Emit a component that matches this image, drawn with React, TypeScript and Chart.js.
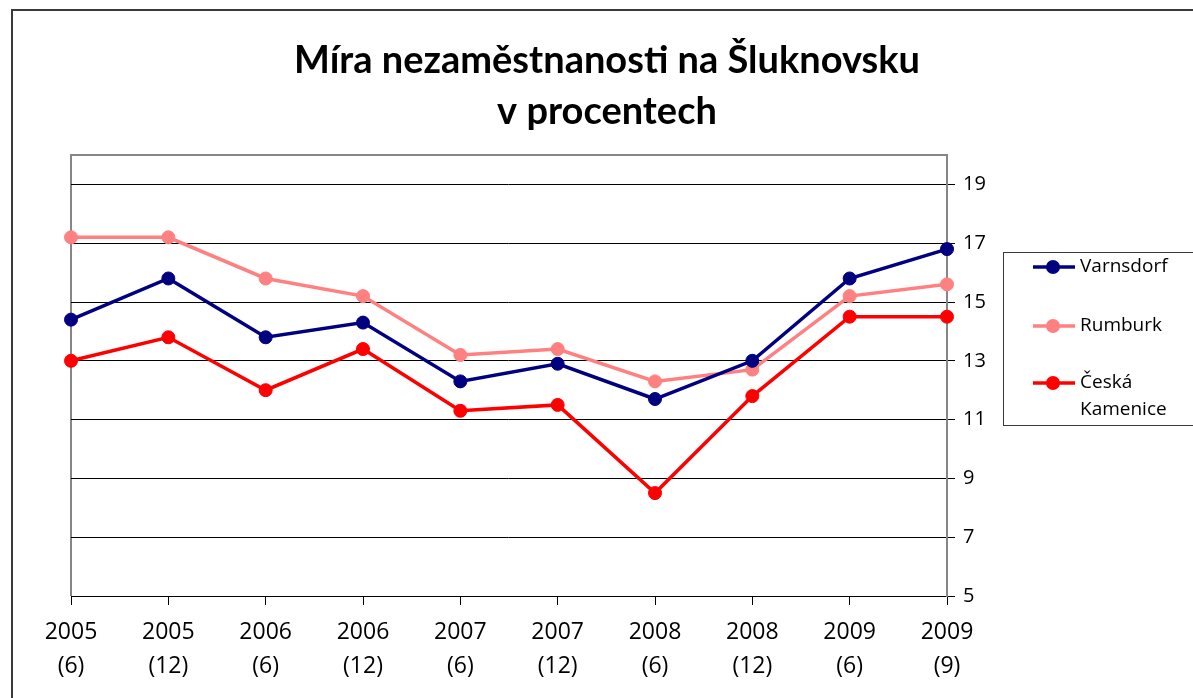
import React, { useEffect, useRef } from "react";
import { Chart, registerables } from "chart.js";

Chart.register(...registerables);

const titleLines = ["Míra nezaměstnanosti na Šluknovsku", "v procentech"];
const years = ["2005", "2005", "2006", "2006", "2007", "2007", "2008", "2008", "2009", "2009"];
const months = ["6", "12", "6", "12", "6", "12", "6", "12", "6", "9"];
const varnsdorf = [14.4, 15.8, 13.8, 14.3, 12.3, 12.9, 11.7, 13.0, 15.8, 16.8];
const rumburk = [17.2, 17.2, 15.8, 15.2, 13.2, 13.4, 12.3, 12.7, 15.2, 15.6];
const ceskaKamenice = [13.0, 13.8, 12.0, 13.4, 11.3, 11.5, 8.5, 11.8, 14.5, 14.5];
const seriesNames = ["Varnsdorf", "Rumburk", "Česká Kamenice"];
const seriesColors = ["#000080", "#FF8080", "#FF0000"];
const yTicks = [5, 7, 9, 11, 13, 15, 17, 19];
const yMin = 5;
const yMax = 20;

const FONT = "'Open Sans', sans-serif";

const decorPlugin = {
  id: "decor",
  beforeDraw(chart: any) {
    const { ctx, chartArea } = chart;
    ctx.save();
    ctx.fillStyle = "#ffffff";
    ctx.fillRect(0, 0, chart.width, chart.height);
    // outer border
    ctx.strokeStyle = "#3a3a3a";
    ctx.lineWidth = 2;
    ctx.strokeRect(12, 10, chart.width + 20, chart.height + 20);
    // plot area border (grey)
    ctx.strokeStyle = "#868686";
    ctx.lineWidth = 2;
    ctx.beginPath();
    ctx.moveTo(chartArea.left, chartArea.bottom);
    ctx.lineTo(chartArea.left, chartArea.top);
    ctx.lineTo(chartArea.right, chartArea.top);
    ctx.stroke();
    // title
    ctx.fillStyle = "#000000";
    ctx.font = `bold 38px Lato, sans-serif`;
    ctx.textAlign = "center";
    ctx.textBaseline = "alphabetic";
    ctx.fillText(titleLines[0], 607, 73);
    ctx.fillText(titleLines[1], 607, 124);
    ctx.restore();
  },
  afterDraw(chart: any) {
    const { ctx } = chart;
    ctx.save();
    // legend box
    ctx.strokeStyle = "#3a3a3a";
    ctx.lineWidth = 1;
    ctx.strokeRect(1003.5, 252.5, 220, 173);
    const rows = [267, 326, 383];
    ctx.font = `19px ${FONT}`;
    ctx.textAlign = "left";
    ctx.textBaseline = "middle";
    chart.data.datasets.forEach((ds: any, i: number) => {
      const y = rows[i];
      ctx.strokeStyle = ds.borderColor;
      ctx.lineWidth = 3.5;
      ctx.beginPath();
      ctx.moveTo(1033, y);
      ctx.lineTo(1075, y);
      ctx.stroke();
      ctx.fillStyle = ds.backgroundColor;
      ctx.beginPath();
      ctx.arc(1053, y, 7, 0, Math.PI * 2);
      ctx.fill();
      // word wrap
      const words = String(ds.label).split(" ");
      const lines: string[] = [];
      let cur = "";
      words.forEach((w) => {
        const t = cur ? cur + " " + w : w;
        if (cur && ctx.measureText(t).width > 108) {
          lines.push(cur);
          cur = w;
        } else cur = t;
      });
      if (cur) lines.push(cur);
      ctx.fillStyle = "#000000";
      lines.forEach((l, k) => ctx.fillText(l, 1080, y + k * 27));
    });
    ctx.restore();
  },
};

export default function App() {
  const ref = useRef<HTMLCanvasElement>(null);
  useEffect(() => {
    document.body.style.margin = "0";
    const labels = years.map((y, i) => [y, `(${months[i]})`]);
    const values = [varnsdorf, rumburk, ceskaKamenice];
    const chart = new Chart(ref.current as HTMLCanvasElement, {
      type: "line",
      data: {
        labels,
        datasets: seriesNames.map((name, i) => ({
          label: name,
          data: values[i],
          borderColor: seriesColors[i],
          backgroundColor: seriesColors[i],
          pointBackgroundColor: seriesColors[i],
          pointBorderColor: seriesColors[i],
          borderWidth: 3.5,
          pointRadius: 6.5,
          pointBorderWidth: 1,
          tension: 0,
        })),
      },
      options: {
        animation: false,
        responsive: false,
        devicePixelRatio: 1,
        layout: { padding: { left: 71, top: 155, right: 186, bottom: 2 } },
        plugins: {
          legend: { display: false },
          title: { display: false },
          tooltip: { enabled: false },
        },
        scales: {
          x: {
            offset: false,
            grid: {
              drawOnChartArea: false,
              drawTicks: true,
              tickLength: 9,
              color: "#000000",
            },
            border: { display: true, color: "#000000", width: 1 },
            ticks: {
              color: "#000000",
              font: { family: FONT, size: 23, lineHeight: 1.5 },
              padding: 10,
              maxRotation: 0,
              autoSkip: false,
            },
            afterFit: (scale: any) => {
              scale.height = 100;
            },
          },
          y: {
            position: "right",
            min: yMin,
            max: yMax,
            afterBuildTicks: (scale: any) => {
              scale.ticks = yTicks.map((v) => ({ value: v }));
            },
            grid: {
              color: "#000000",
              lineWidth: 1,
              drawTicks: true,
              tickLength: 8,
            },
            border: { display: true, color: "#868686", width: 2 },
            ticks: {
              color: "#000000",
              font: { family: FONT, size: 20 },
              padding: 8,
            },
            afterFit: (scale: any) => {
              scale.width = 60;
            },
          },
        },
      },
      plugins: [decorPlugin],
    });
    return () => chart.destroy();
  }, []);
  return <canvas ref={ref} width={1193} height={698} style={{ display: "block" }} />;
}
